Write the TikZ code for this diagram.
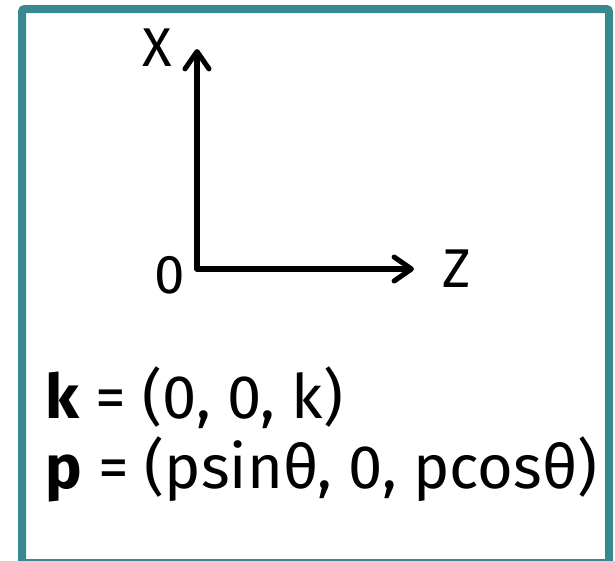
\documentclass[tikz,border=0pt]{standalone}
\usepackage{fontspec}
\setmainfont{Fira Sans}
\usetikzlibrary{arrows.meta}
\definecolor{frameteal}{RGB}{56,136,143}
\tikzset{
  axis/.style={line width=3.8pt, line join=round, line cap=round,
    {Straight Barb[length=13pt,width=18pt,line cap=round,line join=round]}-{Straight Barb[length=13pt,width=18pt,line cap=round,line join=round]}},
  axlabel/.style={inner sep=0pt, font=\fontsize{41}{41}\selectfont},
  eqline/.style={inner sep=0pt, anchor=base west, font=\fontsize{46}{46}\selectfont},
  frame/.style={draw=frameteal, line width=6pt, rounded corners=2pt}
}
\begin{document}
\begin{tikzpicture}[x=0.75pt,y=-0.75pt]
\useasboundingbox (0,0) rectangle (615,561);
\draw[frame] (22,9) rectangle (609,563);
\coordinate (O) at (197,269);
\coordinate (xtip) at (197,49);
\coordinate (ztip) at (414,269);
\draw[axis] (xtip) -- (O) -- (ztip);
\node[axlabel] (xl) at (157,48) {X};
\node[axlabel] (ol) at (170,275) {0};
\node[axlabel] (zl) at (457,269) {Z};
\node[eqline] (k) at (45,418) {\textbf{k} = (0, 0, k)};
\node[eqline] (p) at (45,488) {\textbf{p} = (psinθ, 0, pcosθ)};
\end{tikzpicture}
\end{document}
